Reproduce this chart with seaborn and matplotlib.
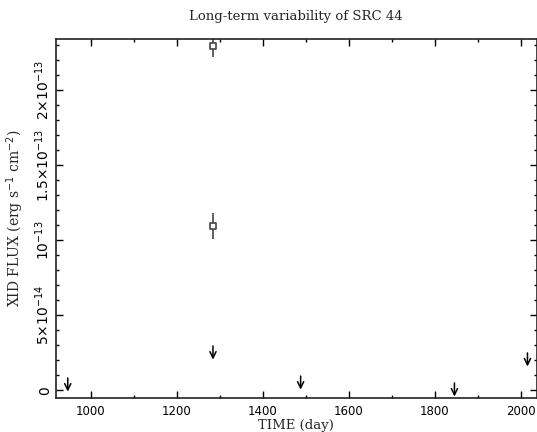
import matplotlib
matplotlib.use("Agg")
import matplotlib.pyplot as plt
import seaborn as sns
import pandas as pd
from matplotlib.ticker import MultipleLocator, FixedLocator, FixedFormatter
from matplotlib.transforms import offset_copy

# ---- data ----
det_time = [1284, 1284]
det_flux = [2.29e-13, 1.094e-13]
det_err = [0.072e-13, 0.085e-13]

ul_time = [946, 1284, 1488, 1846, 2016]
ul_flux = [0.083e-13, 0.296e-13, 0.096e-13, 0.05e-13, 0.25e-13]

ytick_vals = [0, 5e-14, 1e-13, 1.5e-13, 2e-13]
ytick_labels = ["0", r"$5{\times}10^{-14}$", r"$10^{-13}$", r"$1.5{\times}10^{-13}$", r"$2{\times}10^{-13}$"]
xtick_vals = [1000, 1200, 1400, 1600, 1800, 2000]

title = "Long-term variability of SRC 44"
xlabel = "TIME (day)"
ylabel = r"XID FLUX (erg s$^{-1}$ cm$^{-2}$)"

sns.set_style("ticks")
plt.rcParams["font.family"] = ["DejaVu Serif"]
plt.rcParams["mathtext.fontset"] = "dejavusans"

fig = plt.figure(figsize=(5.37, 4.32), dpi=100)
ax = fig.add_axes([56 / 537, 1 - 398 / 432, (536.5 - 56) / 537, (398 - 39) / 432])

det = pd.DataFrame({"time": det_time, "flux": det_flux})
ax.errorbar(det_time, det_flux, yerr=det_err, fmt="none", ecolor="#555555",
            elinewidth=1.3, capsize=0, zorder=2)
sns.scatterplot(data=det, x="time", y="flux", ax=ax, marker="s", s=18,
                facecolor="white", edgecolor="#444444", linewidth=1.2, zorder=3, legend=False)

# upper limits: downward arrows starting at the limit value
trans_end = offset_copy(ax.transData, fig=fig, x=0, y=-9.8, units="points")
for t, f in zip(ul_time, ul_flux):
    ax.annotate("",
                xy=(t, f), xycoords=trans_end,
                xytext=(t, f), textcoords="data",
                arrowprops=dict(arrowstyle="->,head_length=0.45,head_width=0.22", lw=1.1,
                                color="black", shrinkA=0, shrinkB=0),
                annotation_clip=False)

ax.set_xlim(918.6, 2037)
ax.set_ylim(-0.05e-13, 2.339e-13)

ax.xaxis.set_major_locator(FixedLocator(xtick_vals))
ax.xaxis.set_minor_locator(MultipleLocator(100))
ax.yaxis.set_major_locator(FixedLocator(ytick_vals))
ax.yaxis.set_major_formatter(FixedFormatter(ytick_labels))
ax.yaxis.set_minor_locator(MultipleLocator(1e-14))

ax.tick_params(which="both", direction="in", top=True, right=True, colors="black")
ax.tick_params(which="major", length=5, width=1.0)
ax.tick_params(which="minor", length=2.5, width=1.0)
ax.tick_params(axis="x", labelsize=8.5, pad=5)
ax.tick_params(axis="y", labelsize=10, pad=3)
for lab in ax.get_xticklabels():
    lab.set_family("DejaVu Sans")
for lab in ax.get_yticklabels():
    lab.set_rotation(90)
    lab.set_va("center")
    lab.set_family("DejaVu Sans")

for sp in ax.spines.values():
    sp.set_linewidth(1.2)
    sp.set_color("#222222")

ax.set_xlabel(xlabel, fontsize=9.5, labelpad=1)
ax.set_ylabel(ylabel, fontsize=10, labelpad=5)
ax.set_title(title, fontsize=9.5, pad=14)

fig.savefig("out.png", dpi=100)
